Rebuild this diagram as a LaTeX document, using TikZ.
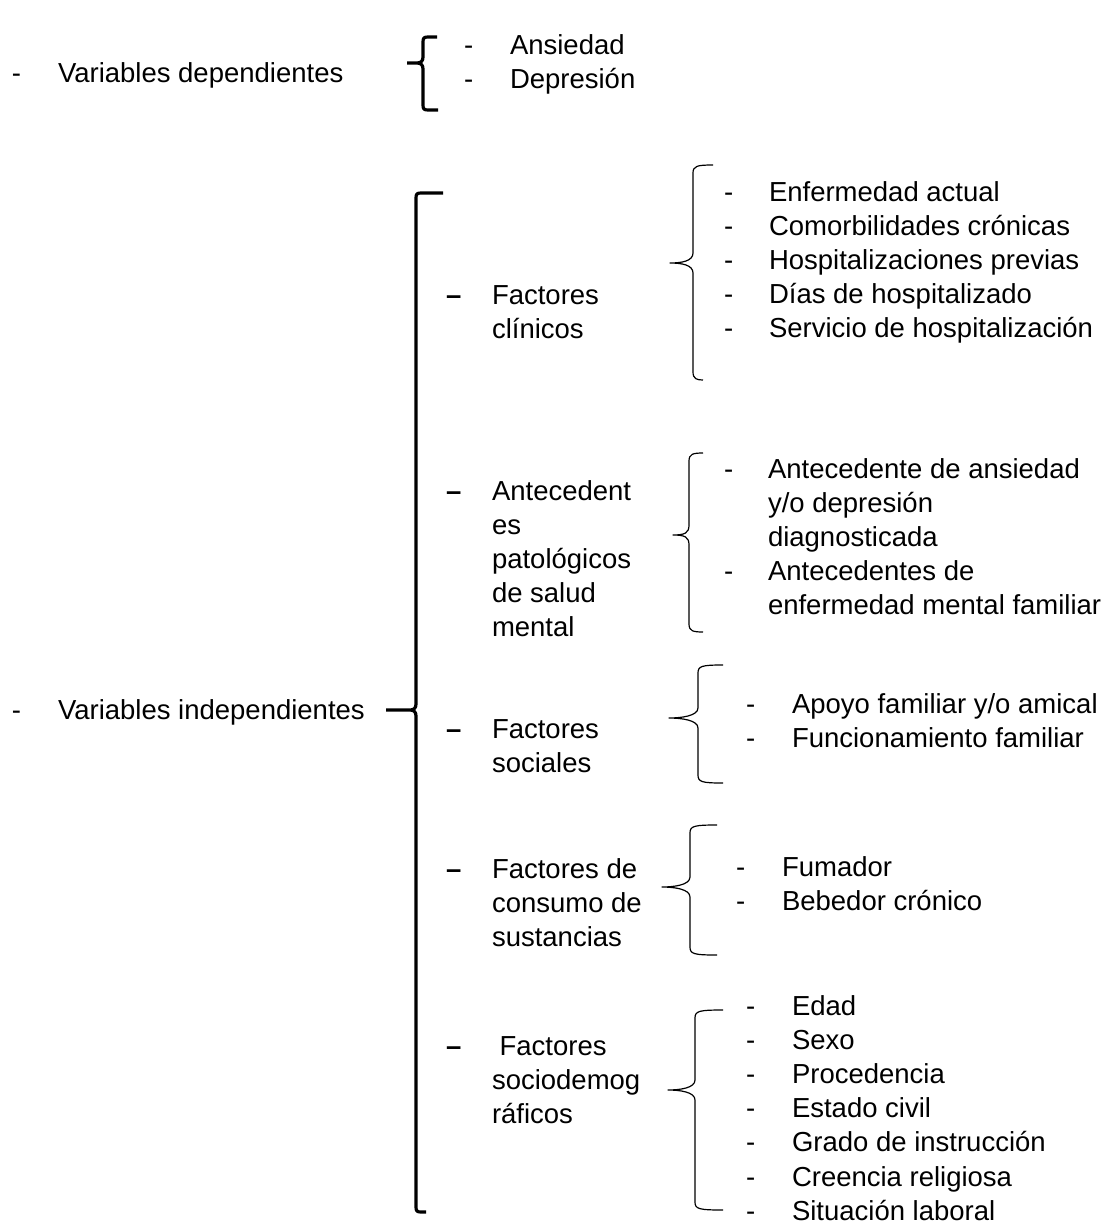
\documentclass[tikz,border=0pt]{standalone}
\usepackage{fontspec}
\setmainfont{Liberation Sans}
\newcommand{\vbrace}[8]{% #1 style, #2 x, #3 ytop, #4 ymid, #5 ybot, #6 xtip, #7 xtopend, #8 xbotend
  \draw[#1] (#7,#3) .. controls (#2+4,#3) and (#2,#3+1) .. (#2,#3+8)
    -- (#2,#4-10) .. controls (#2,#4-2) and (#6+12,#4) .. (#6,#4)
    .. controls (#6+12,#4) and (#2,#4+2) .. (#2,#4+10)
    -- (#2,#5-8) .. controls (#2,#5-1) and (#2+4,#5) .. (#8,#5);}
\newcommand{\vbracket}[8]{% square-cornered thick brace, same arguments
  \draw[#1] (#7,#3) -- (#2+5,#3) .. controls (#2+1,#3) and (#2,#3+1) .. (#2,#3+5)
    -- (#2,#4-6) .. controls (#2,#4-2) and (#2-2,#4) .. (#2-6,#4) -- (#6,#4)
    (#2-6,#4) .. controls (#2-2,#4) and (#2,#4+2) .. (#2,#4+6)
    -- (#2,#5-5) .. controls (#2,#5-1) and (#2+1,#5) .. (#2+5,#5) -- (#8,#5);}
% base anchor of a multi-line node is the baseline of its last line:
% place at first baseline + (lines-1)*34.2
\def\lsk{34.2}
\begin{document}
\begin{tikzpicture}[x=1pt,y=-1pt,
  txt/.style={anchor=base west, inner sep=0pt, outer sep=0pt,
    font=\fontsize{27.5}{34.2}\selectfont, align=left},
  dashtxt/.style={txt, font=\fontsize{27.5}{34.2}\selectfont\bfseries},
  thickb/.style={line width=3.2pt, line join=round},
  thinb/.style={line width=1.2pt, line join=round}]
\useasboundingbox (0,0) rectangle (1116,1224);

% top level
\node[txt] (h1) at (12,82) {-};
\node[txt] (vd) at (58,82) {Variables dependientes};
\node[txt] (h2) at (12,719) {-};
\node[txt] (vi) at (58,719) {Variables independientes};

% dependent variables
\vbracket{thickb}{423}{37}{63}{110}{407}{437}{438}
\node[txt] (dh) at (464,54+\lsk) {-\\-};
\node[txt] (dv) at (510,54+\lsk) {Ansiedad\\Depresión};

% independent variables big brace
\vbracket{thickb}{416}{193}{710}{1212}{386}{443}{426}

% mid level
\node[dashtxt] (m1d) at (446,304) {–};
\node[txt] (m1) at (492,304+\lsk) {Factores\\clínicos};
\node[dashtxt] (m2d) at (446,500) {–};
\node[txt] (m2) at (492,500+4*\lsk) {Antecedent\\es\\patológicos\\de salud\\mental};
\node[dashtxt] (m3d) at (446,738) {–};
\node[txt] (m3) at (492,738+\lsk) {Factores\\sociales};
\node[dashtxt] (m4d) at (446,878) {–};
\node[txt] (m4) at (492,878+2*\lsk) {Factores de\\consumo de\\sustancias};
\node[dashtxt] (m5d) at (446,1055) {–};
\node[txt] (m5) at (492,1055+2*\lsk) {\ Factores\\sociodemog\\ráficos};

% group 1
\vbrace{thinb}{693}{165}{263}{380}{670}{713}{703}
\node[txt] (g1d) at (724,201+4*\lsk) {-\\-\\-\\-\\-};
\node[txt] (g1) at (769,201+4*\lsk) {Enfermedad actual\\Comorbilidades crónicas\\Hospitalizaciones previas\\Días de hospitalizado\\Servicio de hospitalización};

% group 2
\vbrace{thinb}{689}{453}{535}{632}{673}{703}{703}
\node[txt] (g2da) at (724,478) {-};
\node[txt] (g2a) at (768,478+2*\lsk) {Antecedente de ansiedad\\y/o depresión\\diagnosticada};
\node[txt] (g2db) at (724,580) {-};
\node[txt] (g2b) at (768,580+\lsk) {Antecedentes de\\enfermedad mental familiar};

% group 3
\vbrace{thinb}{698}{665}{718}{783}{669}{723}{723}
\node[txt] (g3d) at (746,713+\lsk) {-\\-};
\node[txt] (g3) at (792,713+\lsk) {Apoyo familiar y/o amical\\Funcionamiento familiar};

% group 4
\vbrace{thinb}{690}{825}{887}{955}{662}{717}{717}
\node[txt] (g4d) at (736,876+\lsk) {-\\-};
\node[txt] (g4) at (782,876+\lsk) {Fumador\\Bebedor crónico};

% group 5
\vbrace{thinb}{695}{1010}{1090}{1210}{668}{723}{723}
\node[txt] (g5d) at (746,1015+6*\lsk) {-\\-\\-\\-\\-\\-\\-};
\node[txt] (g5) at (792,1015+6*\lsk) {Edad\\Sexo\\Procedencia\\Estado civil\\Grado de instrucción\\Creencia religiosa\\Situación laboral};
\end{tikzpicture}
\end{document}
